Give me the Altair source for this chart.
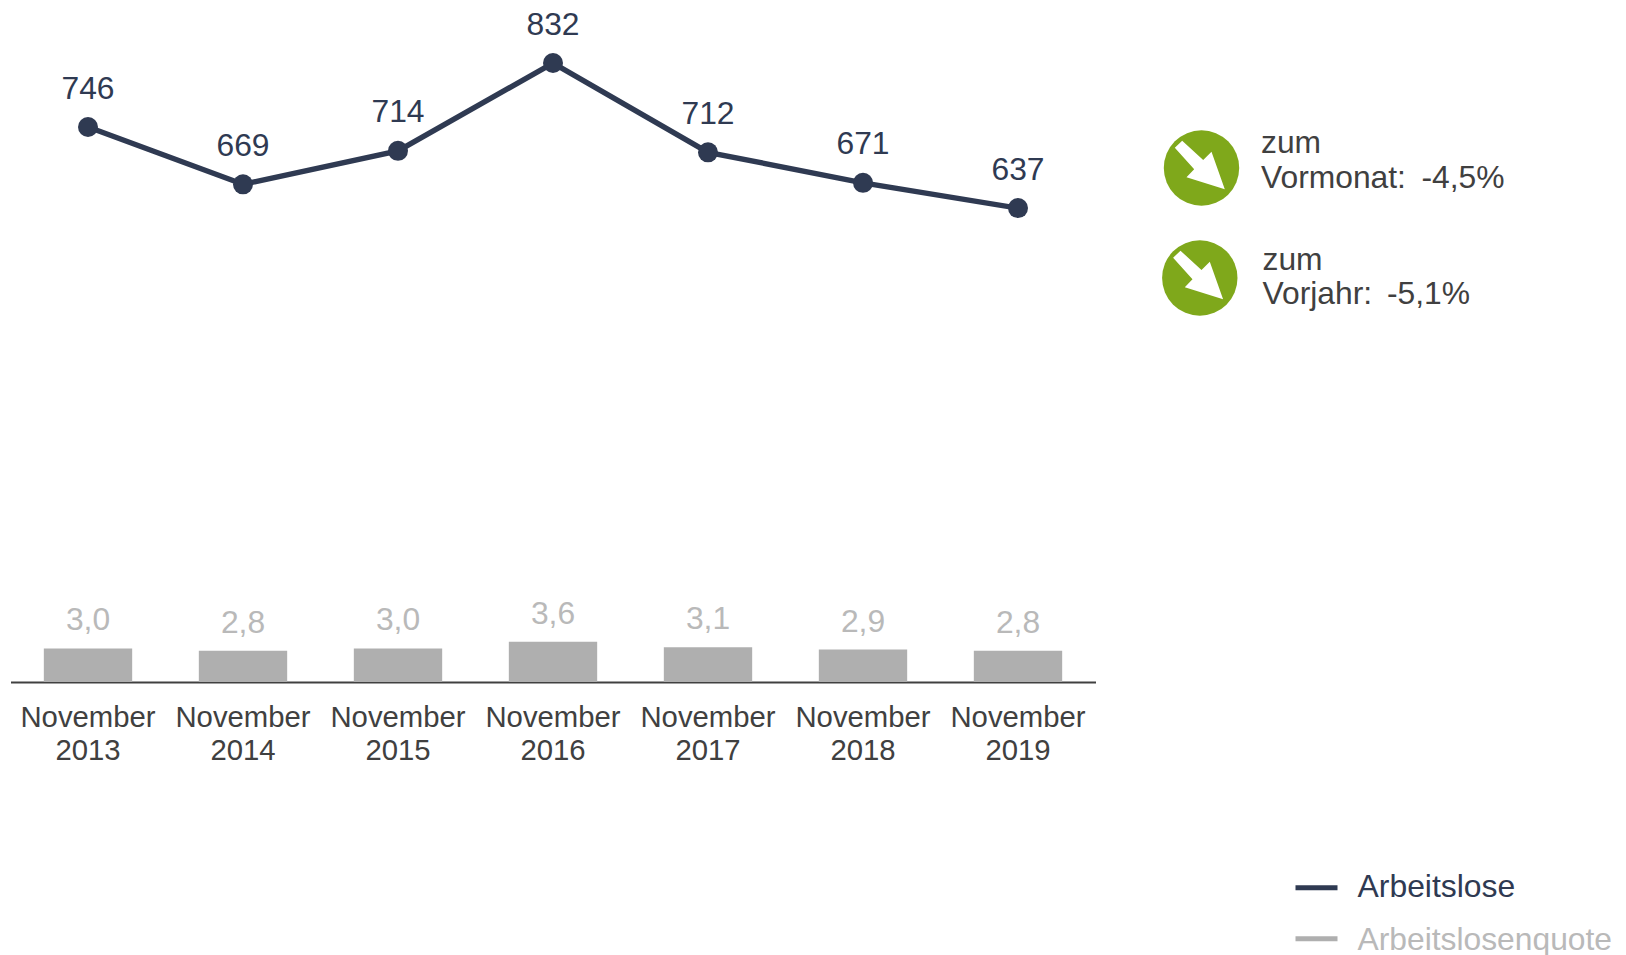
import altair as alt
import pandas as pd

months = ["November 2013", "November 2014", "November 2015", "November 2016",
          "November 2017", "November 2018", "November 2019"]
arbeitslose = [746, 669, 714, 832, 712, 671, 637]
quote = [3.0, 2.8, 3.0, 3.6, 3.1, 2.9, 2.8]
quote_labels = ["3,0", "2,8", "3,0", "3,6", "3,1", "2,9", "2,8"]

NAVY = "#2f3a52"
BAR = "#afafaf"
BAR_TEXT = "#b9b9b9"
DARK = "#404040"
GREEN = "#7fa81b"
FONT = "Liberation Sans"
ARROW = ("M-0.512,-0.724L0.045,-0.212L0.265,-0.432L0.618,0.565"
         "L-0.398,0.247L-0.194,0.034L-0.708,-0.538Z")

df = pd.DataFrame({"month": months, "arbeitslose": arbeitslose,
                   "quote": quote, "label": quote_labels})

x = alt.X("month:N", sort=months, title=None,
          scale=alt.Scale(paddingInner=0.43, paddingOuter=0.215),
          axis=alt.Axis(labelExpr="split(datum.label, ' ')", labelAngle=0,
                        labelFont=FONT, labelFontSize=29.3, labelColor=DARK,
                        labelLineHeight=33, labelPadding=21, labelBaseline="top",
                        ticks=False, grid=False, domainColor=DARK, domainWidth=1.8))
y_line = alt.Y("arbeitslose:Q", axis=None, scale=alt.Scale(domain=[0, 906]))
y_bar = alt.Y("quote:Q", axis=None, scale=alt.Scale(domain=[0, 60.2]))

base = alt.Chart(df).encode(x=x)
bars = base.mark_bar(color=BAR).encode(y=y_bar)
bar_text = base.mark_text(font=FONT, fontSize=31.8, color=BAR_TEXT, baseline="alphabetic", dy=-18).encode(
    y=y_bar, text="label:N")
data_layers = alt.layer(bars, bar_text)

line = base.mark_line(color=NAVY, strokeWidth=5.4).encode(y=y_line)
points = base.mark_point(color=NAVY, filled=True, opacity=1, size=400).encode(y=y_line)
line_text = base.mark_text(font=FONT, fontSize=31.8, color=NAVY, baseline="alphabetic", dy=-28.5).encode(
    y=y_line, text="arbeitslose:Q")
line_layers = alt.layer(line, points, line_text)

one = pd.DataFrame({"a": [0]})


def label(text, px, py, color=DARK, size=31.8):
    return alt.Chart(one).mark_text(text=text, font=FONT, fontSize=size, color=color,
                                    align="left", baseline="alphabetic").encode(
        x=alt.value(px - 11), y=alt.value(py - 8))


def badge(px, py):
    circle = alt.Chart(one).mark_point(shape="circle", filled=True, color=GREEN, opacity=1,
                                       size=5685, strokeWidth=0).encode(
        x=alt.value(px - 11), y=alt.value(py - 8))
    arrow = alt.Chart(one).mark_point(shape=ARROW, filled=True, color="white", opacity=1,
                                      size=5685, strokeWidth=0).encode(
        x=alt.value(px - 11), y=alt.value(py - 8))
    return [circle, arrow]


def key(py, color):
    return alt.Chart(one).mark_rule(color=color, strokeWidth=5).encode(
        x=alt.value(1296 - 11), x2=alt.value(1338 - 11), y=alt.value(py - 8))


extras = badge(1202, 168) + badge(1200.3, 278) + [
    label("zum", 1261.5, 153),
    label("Vormonat:", 1261.5, 188),
    label("-4,5%", 1422, 188),
    label("zum", 1263, 270),
    label("Vorjahr:", 1263, 304),
    label("-5,1%", 1387.5, 304),
    key(887.7, NAVY),
    key(938.8, BAR),
    label("Arbeitslose", 1358, 897, NAVY, 31.9),
    label("Arbeitslosenquote", 1358, 949.5, BAR_TEXT, 31.8),
]

chart = alt.layer(data_layers, line_layers, *extras).resolve_scale(y="independent").properties(
    width=1085, height=674,
    autosize=alt.AutoSizeParams(type="none"),
    padding={"left": 2.5, "top": 0, "right": 522.5, "bottom": 273},
).configure_view(stroke=None)

chart.save("out.html", embed_options={"renderer": "svg", "actions": False})
